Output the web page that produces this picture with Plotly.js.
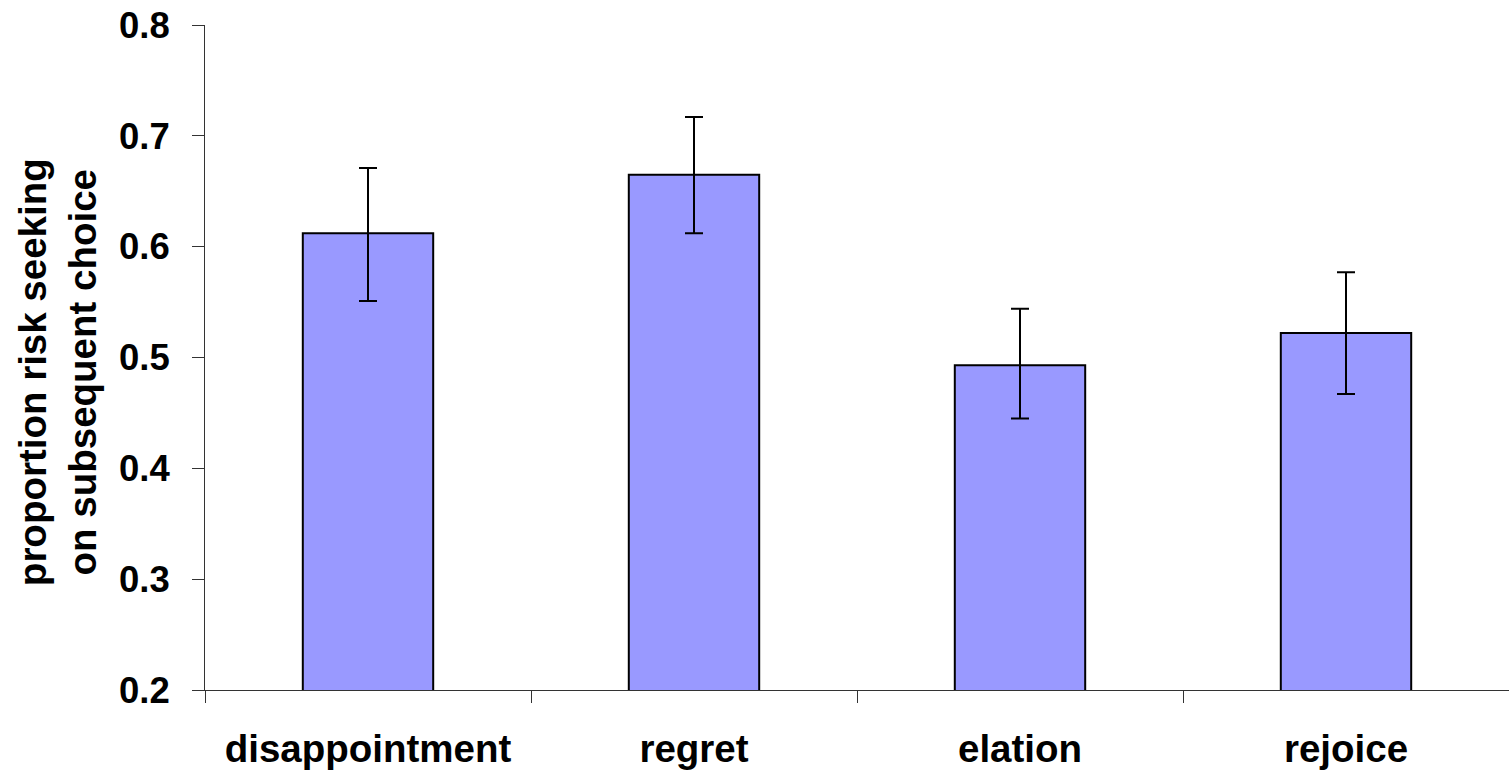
<!DOCTYPE html>
<html>
<head>
<meta charset="utf-8">
<script src="https://cdn.plot.ly/plotly-3.0.1.min.js"></script>
<style>html,body{margin:0;padding:0;background:#fff;}#chart{width:1509px;height:775px;}</style>
</head>
<body>
<div id="chart"></div>
<script>
const categories = ["disappointment", "regret", "elation", "rejoice"];
const values = [0.612, 0.665, 0.493, 0.522];
const errPlus = [0.059, 0.052, 0.051, 0.055];
const errMinus = [0.061, 0.053, 0.048, 0.055];
const yTickVals = [0.2, 0.3, 0.4, 0.5, 0.6, 0.7, 0.8];
const yTickText = ["0.2", "0.3", "0.4", "0.5", "0.6", "0.7", "0.8"];
const yTitle = "proportion risk seeking<br>on subsequent choice";

const FONT = "Liberation Sans, Arial, sans-serif";

const trace = {
  type: "bar",
  x: categories,
  y: values,
  base: 0,
  marker: { color: "#9999FF", line: { color: "#000000", width: 2 } },
  error_y: { type: "data", symmetric: false, array: errPlus, arrayminus: errMinus,
             color: "#000000", thickness: 2, width: 9 },
  hoverinfo: "skip"
};

const layout = {
  width: 1509, height: 775,
  margin: { l: 205, r: 0, t: 25, b: 85 },
  paper_bgcolor: "#ffffff", plot_bgcolor: "#ffffff",
  showlegend: false,
  bargap: 0.6,
  font: { family: FONT, size: 36, color: "#000000" },
  xaxis: {
    type: "category",
    range: [-0.5, 3.5],
    tickson: "boundaries",
    ticks: "outside", ticklen: 12, tickcolor: "#333333", tickwidth: 1,
    showline: true, linecolor: "#333333", linewidth: 1,
    showgrid: false, zeroline: false,
    tickfont: { family: FONT, size: 38.5, color: "#000000", weight: "bold" },
    ticklabelstandoff: 25
  },
  yaxis: {
    range: [0.2, 0.8],
    tickvals: yTickVals, ticktext: yTickText,
    ticks: "outside", ticklen: 12, tickcolor: "#333333", tickwidth: 1,
    showline: true, linecolor: "#333333", linewidth: 1,
    showgrid: false, zeroline: false,
    tickfont: { family: FONT, size: 36.5, color: "#000000", weight: "bold" },
    ticklabelstandoff: 15
  },
  annotations: [{
    text: yTitle, xref: "paper", yref: "paper",
    x: -0.1135, y: 0.478, xanchor: "center", yanchor: "middle",
    textangle: -90, showarrow: false,
    font: { family: FONT, size: 38.5, color: "#000000", weight: "bold" }
  }]
};

Plotly.newPlot("chart", [trace], layout, { displayModeBar: false, staticPlot: true });
</script>
</body>
</html>
